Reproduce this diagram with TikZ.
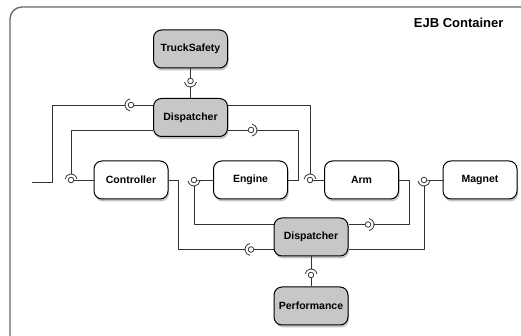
\documentclass[tikz,border=0pt]{standalone}
\usepackage{fontspec}
\setmainfont{Liberation Sans}
\usetikzlibrary{shadows,calc}

\tikzset{
  bean/.style={draw, rounded corners=8pt, minimum width=74pt, minimum height=38pt,
    fill=white, line width=1pt, font=\bfseries\fontsize{10.5}{12}\selectfont,
    drop shadow={shadow xshift=1pt, shadow yshift=-2.5pt, opacity=0.45}},
  infra/.style={bean, fill=black!22},
  wire/.style={draw=black!80, line width=0.8pt},
  pics/joint/.style={code={
      \fill[white] (0,0) -- (#1-80:6pt) arc[start angle=#1-80, end angle=#1+80, radius=6pt] -- cycle;
      \draw[wire] (#1-80:6pt) arc[start angle=#1-80, end angle=#1+80, radius=6pt];
      \draw[wire, fill=white] (0,0) circle (2.8pt);
  }}
}

\begin{document}
\begin{tikzpicture}[x=1pt, y=1pt, line join=round]
  \clip (0,0) rectangle (521,336);
  % container
  \draw[draw=black!60, line width=1.3pt, rounded corners=12pt, fill=white,
    drop shadow={shadow xshift=1pt, shadow yshift=-1.5pt, opacity=0.3}] (10,329) rectangle (560,-30);
  \node[anchor=base east, font=\bfseries\fontsize{13}{15}\selectfont] (title) at (507,308) {EJB Container};

  % beans
  \node[infra] (truck) at (190.5,287) {TruckSafety};
  \node[infra] (dispA) at (190.5,218.5) {Dispatcher};
  \node[bean] (ctrl) at (131,156) {Controller};
  \node[bean] (engine) at (250.5,156) {Engine};
  \node[bean] (arm) at (361.5,156) {Arm};
  \node[bean] (magnet) at (480,156) {Magnet};
  \node[infra] (dispB) at (311,99) {Dispatcher};
  \node[infra] (perf) at (311,30) {Performance};

  % joints
  \coordinate (j1) at (190.5,255);
  \coordinate (j2) at (131,231);
  \coordinate (j3) at (310,156);
  \coordinate (j4) at (251,206);
  \coordinate (j5) at (71,156);
  \coordinate (j6) at (251,86.5);
  \coordinate (j7) at (194,156);
  \coordinate (j8) at (368,111.5);
  \coordinate (j9) at (424,156);
  \coordinate (j10) at (311,61);
  \coordinate (in) at (32,154);

  % wires
  \draw[wire] (truck) -- (dispA);
  \draw[wire] ([yshift=12.5pt]dispA.west) -| ($(in)+(20,0)$) -- (in);
  \draw[wire] ([yshift=12.5pt]dispA.east) -| (j3) -- (arm);
  \draw[wire] ([yshift=-12.5pt]dispA.east) -| ($(engine.east)+(10,0)$) -- (engine.east);
  \draw[wire] ([yshift=-12.5pt]dispA.west) -| (j5) -- (ctrl);
  \draw[wire] (ctrl.east) -- ++(10,0) |- ([yshift=-12.5pt]dispB.west);
  \draw[wire] (engine.west) -- (j7) |- ([yshift=12.5pt]dispB.west);
  \draw[wire] (arm.east) -- ++(10,0) |- ([yshift=12.5pt]dispB.east);
  \draw[wire] (magnet.west) -- (j9) |- ([yshift=-12.5pt]dispB.east);
  \draw[wire] (dispB) -- (perf);

  \foreach \j/\a in {j1/270, j2/180, j3/90, j4/0, j5/90, j6/180, j7/270, j8/0, j9/270, j10/90}
    \pic at (\j) {joint=\a};
\end{tikzpicture}
\end{document}
